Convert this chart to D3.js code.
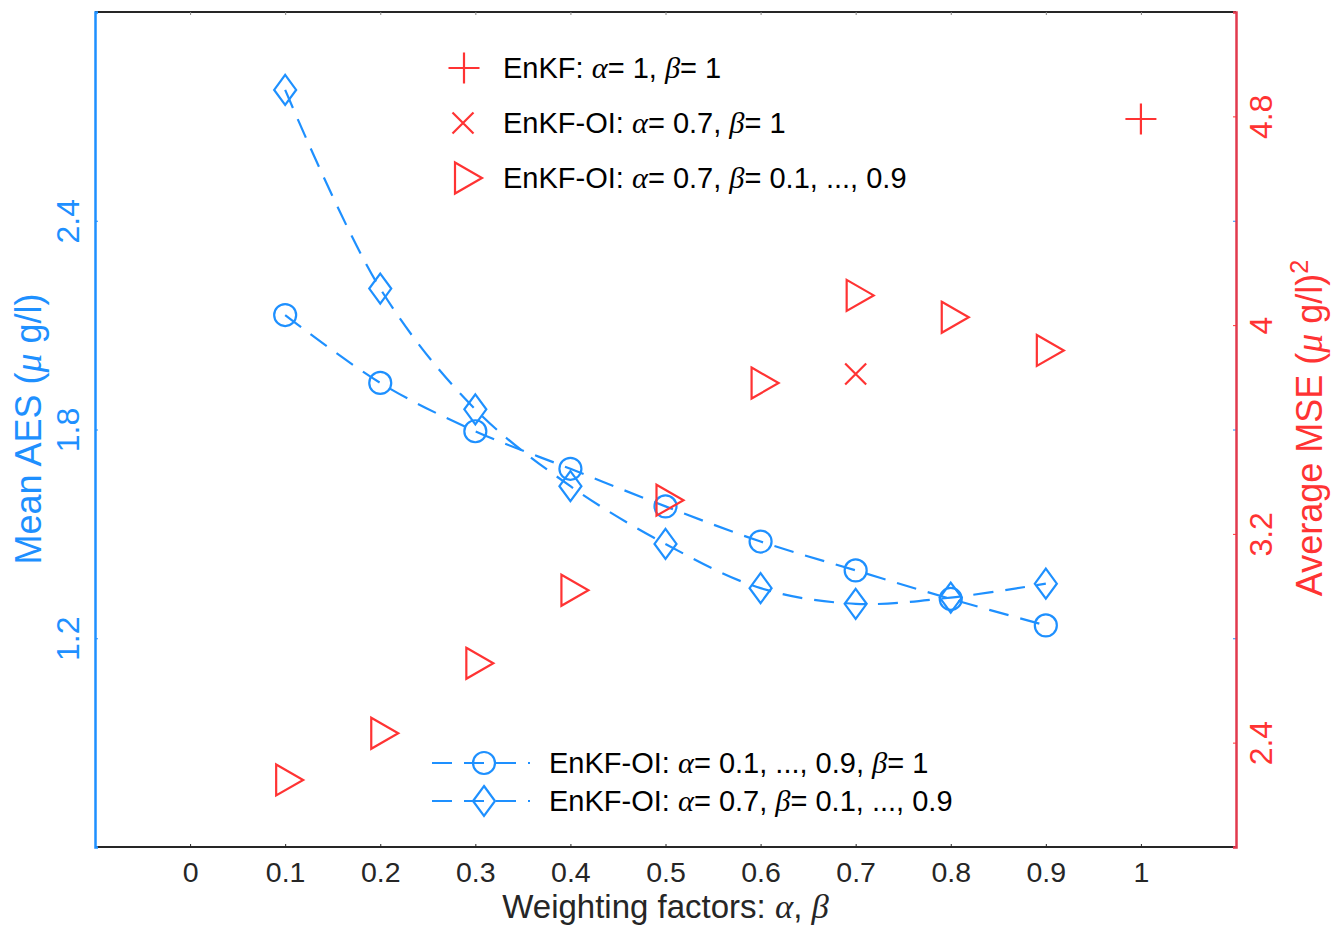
<!DOCTYPE html>
<html><head><meta charset="utf-8">
<script src="https://cdn.jsdelivr.net/npm/d3@7"></script>
<style>body{margin:0;background:#fff}svg{display:block}</style>
</head><body>
<svg id="c" width="1332" height="925"></svg>
<script>
// ---- data ----
const weights = [0.1,0.2,0.3,0.4,0.5,0.6,0.7,0.8,0.9];
const aesAlpha = [2.129,1.934,1.795,1.687,1.579,1.478,1.395,1.313,1.237];   // circles, alpha varied, beta=1
const aesBeta  = [2.776,2.205,1.858,1.637,1.471,1.344,1.299,1.317,1.357];   // diamonds, alpha=0.7, beta varied
const mseBeta  = [2.257,2.436,2.704,2.984,3.329,3.778,4.114,4.030,3.903];   // triangles
const mseEnKF  = [{x:1, y:4.790}];
const mseOI    = [{x:0.7, y:3.813}];
const xTicks = [0,0.1,0.2,0.3,0.4,0.5,0.6,0.7,0.8,0.9,1];
const yLeftTicks = [1.2,1.8,2.4];
const yRightTicks = [2.4,3.2,4,4.8];

const BLUE = "#1e90ff", RED = "#ff3333";
const svg = d3.select("#c");
const L=95, R=1236, T=12, B=847;
const x = d3.scaleLinear().domain([-0.1,1.1]).range([L,R]);
const yl = d3.scaleLinear().domain([0.6,3.0]).range([B,T]);
const yr = d3.scaleLinear().domain([2.0,5.2]).range([B,T]);
const FONT = "'Liberation Sans', Arial, Helvetica, sans-serif";
const GREEK = "'Liberation Serif','Times New Roman',serif";

// frame
svg.append("line").attr("x1",L).attr("x2",R).attr("y1",T).attr("y2",T).attr("stroke","#262626").attr("stroke-width",2);
svg.append("line").attr("x1",L).attr("x2",R).attr("y1",B).attr("y2",B).attr("stroke","#262626").attr("stroke-width",2);

// x axis ticks (inward, top and bottom)
const xa = d3.axisBottom(x).tickValues(xTicks).tickSize(-3).tickPadding(14).tickFormat(d3.format("~g"));
const gx = svg.append("g").attr("transform",`translate(0,${B})`).call(xa);
gx.select(".domain").remove();
gx.selectAll("line").attr("stroke","#262626");
gx.selectAll("text").attr("font-family",FONT).attr("font-size",28.5).attr("fill","#262626").attr("dy","0.72em");
const xt = d3.axisTop(x).tickValues(xTicks).tickSize(-3).tickFormat("");
const gxt = svg.append("g").attr("transform",`translate(0,${T})`).call(xt);
gxt.select(".domain").remove();
gxt.selectAll("line").attr("stroke","#888");

// left axis
const ya = d3.axisLeft(yl).tickValues(yLeftTicks).tickSize(-3).tickFormat(d3.format(".1f"));
const gyl = svg.append("g").attr("transform",`translate(${L},0)`).call(ya);
gyl.select(".domain").attr("stroke",BLUE).attr("stroke-width",2.5);
gyl.selectAll("line").attr("stroke",BLUE);
gyl.selectAll("text").attr("font-family",FONT).attr("font-size",32).attr("fill",BLUE)
  .attr("text-anchor","middle").attr("dy",null).attr("x",null)
  .attr("transform","translate(-27,0) rotate(-90)").attr("dominant-baseline","central");
// mirrored left ticks on right side
const gylm = svg.append("g").attr("transform",`translate(${R},0)`).call(d3.axisRight(yl).tickValues(yLeftTicks).tickSize(-3).tickFormat(""));
gylm.select(".domain").remove();
gylm.selectAll("line").attr("stroke",BLUE);

// right axis
const yra = d3.axisRight(yr).tickValues(yRightTicks).tickSize(-3).tickFormat(d3.format("~g"));
const gyr = svg.append("g").attr("transform",`translate(${R},0)`).call(yra);
gyr.select(".domain").attr("stroke","#e23a4e").attr("stroke-width",2.5);
gyr.selectAll("line").attr("stroke",RED);
gyr.selectAll("text").attr("font-family",FONT).attr("font-size",32).attr("fill",RED)
  .attr("text-anchor","middle").attr("dy",null).attr("x",null)
  .attr("transform","translate(25,0) rotate(-90)").attr("dominant-baseline","central");

// rich text helper
function rich(sel, parts, size){
  parts.forEach(p=>{
    const ts = sel.append("tspan").text(p.t);
    if(p.g){ts.attr("font-family",GREEK).attr("font-style","italic").attr("font-size",size*1.05);}
    if(p.sup){ts.attr("font-size",size*0.7).attr("baseline-shift","super");}
  });
  return sel;
}

// axis titles
rich(svg.append("text").attr("x",x(0.5)).attr("y",918).attr("text-anchor","middle")
  .attr("font-family",FONT).attr("font-size",33).attr("fill","#262626"),
  [{t:"Weighting factors: "},{t:"α",g:1},{t:", "},{t:"β",g:1}],33);
rich(svg.append("text").attr("transform","translate(41,429) rotate(-90)").attr("text-anchor","middle")
  .attr("font-family",FONT).attr("font-size",36).attr("fill",BLUE),
  [{t:"Mean AES ("},{t:"μ",g:1},{t:" g/l)"}],36);
rich(svg.append("text").attr("transform","translate(1322,428) rotate(-90)").attr("text-anchor","middle")
  .attr("font-family",FONT).attr("font-size",36).attr("fill",RED),
  [{t:"Average MSE ("},{t:"μ",g:1},{t:" g/l)"},{t:"2",sup:1}],36);

// marker path generators
function diamondPath(){return "M0,-15L11,0L0,15L-11,0Z";}
function triPath(){return "M-9,-15.5L18,0L-9,15.5Z";}
function plusPath(){return "M-15.5,0H15.5M0,-15.5V15.5";}
function crossPath(){return "M-10.5,-10.5L10.5,10.5M-10.5,10.5L10.5,-10.5";}

// lines
const lineL = d3.line().x(d=>x(d[0])).y(d=>yl(d[1])).curve(d3.curveCatmullRom.alpha(0.5));
const plot = svg.append("g");
plot.append("path").attr("d",lineL(weights.map((w,i)=>[w,aesAlpha[i]])))
  .attr("fill","none").attr("stroke",BLUE).attr("stroke-width",2.2).attr("stroke-dasharray","20,12");
plot.append("path").attr("d",lineL(weights.map((w,i)=>[w,aesBeta[i]])))
  .attr("fill","none").attr("stroke",BLUE).attr("stroke-width",2.2).attr("stroke-dasharray","20,12");

// markers
plot.selectAll(".cm").data(weights).join("circle").attr("class","cm")
  .attr("cx",d=>x(d)).attr("cy",(d,i)=>yl(aesAlpha[i])).attr("r",11)
  .attr("fill","none").attr("stroke",BLUE).attr("stroke-width",2.2);
plot.selectAll(".dm").data(weights).join("path").attr("class","dm")
  .attr("transform",(d,i)=>`translate(${x(d)},${yl(aesBeta[i])})`).attr("d",diamondPath())
  .attr("fill","none").attr("stroke",BLUE).attr("stroke-width",2.2);
plot.selectAll(".tm").data(weights).join("path").attr("class","tm")
  .attr("transform",(d,i)=>`translate(${x(d)},${yr(mseBeta[i])})`).attr("d",triPath())
  .attr("fill","none").attr("stroke",RED).attr("stroke-width",2.2);
plot.selectAll(".pm").data(mseEnKF).join("path").attr("class","pm")
  .attr("transform",d=>`translate(${x(d.x)},${yr(d.y)})`).attr("d",plusPath())
  .attr("fill","none").attr("stroke",RED).attr("stroke-width",2.2);
plot.selectAll(".xm").data(mseOI).join("path").attr("class","xm")
  .attr("transform",d=>`translate(${x(d.x)},${yr(d.y)})`).attr("d",crossPath())
  .attr("fill","none").attr("stroke",RED).attr("stroke-width",2.2);

// legend top (red)
const legTop = [
  {m:plusPath(), mx:464, y:68, parts:[{t:"EnKF: "},{t:"α",g:1},{t:"= 1, "},{t:"β",g:1},{t:"= 1"}]},
  {m:crossPath(), mx:463, y:123, parts:[{t:"EnKF-OI: "},{t:"α",g:1},{t:"= 0.7, "},{t:"β",g:1},{t:"= 1"}]},
  {m:triPath(), mx:464, y:178, parts:[{t:"EnKF-OI: "},{t:"α",g:1},{t:"= 0.7, "},{t:"β",g:1},{t:"= 0.1, ..., 0.9"}]}
];
legTop.forEach(e=>{
  svg.append("path").attr("transform",`translate(${e.mx},${e.y})`).attr("d",e.m)
    .attr("fill","none").attr("stroke",RED).attr("stroke-width",2.2);
  rich(svg.append("text").attr("x",503).attr("y",e.y).attr("dominant-baseline","central")
    .attr("font-family",FONT).attr("font-size",29).attr("fill","#000"), e.parts, 29);
});

// legend bottom (blue)
const legBot = [
  {m:"c", y:763, parts:[{t:"EnKF-OI: "},{t:"α",g:1},{t:"= 0.1, ..., 0.9, "},{t:"β",g:1},{t:"= 1"}]},
  {m:"d", y:801, parts:[{t:"EnKF-OI: "},{t:"α",g:1},{t:"= 0.7, "},{t:"β",g:1},{t:"= 0.1, ..., 0.9"}]}
];
legBot.forEach(e=>{
  svg.append("line").attr("x1",432).attr("x2",530).attr("y1",e.y).attr("y2",e.y)
    .attr("stroke",BLUE).attr("stroke-width",2.2).attr("stroke-dasharray","20,12");
  if(e.m==="c") svg.append("circle").attr("cx",484).attr("cy",e.y).attr("r",11).attr("fill","none").attr("stroke",BLUE).attr("stroke-width",2.2);
  else svg.append("path").attr("transform",`translate(484,${e.y})`).attr("d",diamondPath()).attr("fill","none").attr("stroke",BLUE).attr("stroke-width",2.2);
  rich(svg.append("text").attr("x",549).attr("y",e.y).attr("dominant-baseline","central")
    .attr("font-family",FONT).attr("font-size",29).attr("fill","#000"), e.parts, 29);
});
</script>
</body></html>
